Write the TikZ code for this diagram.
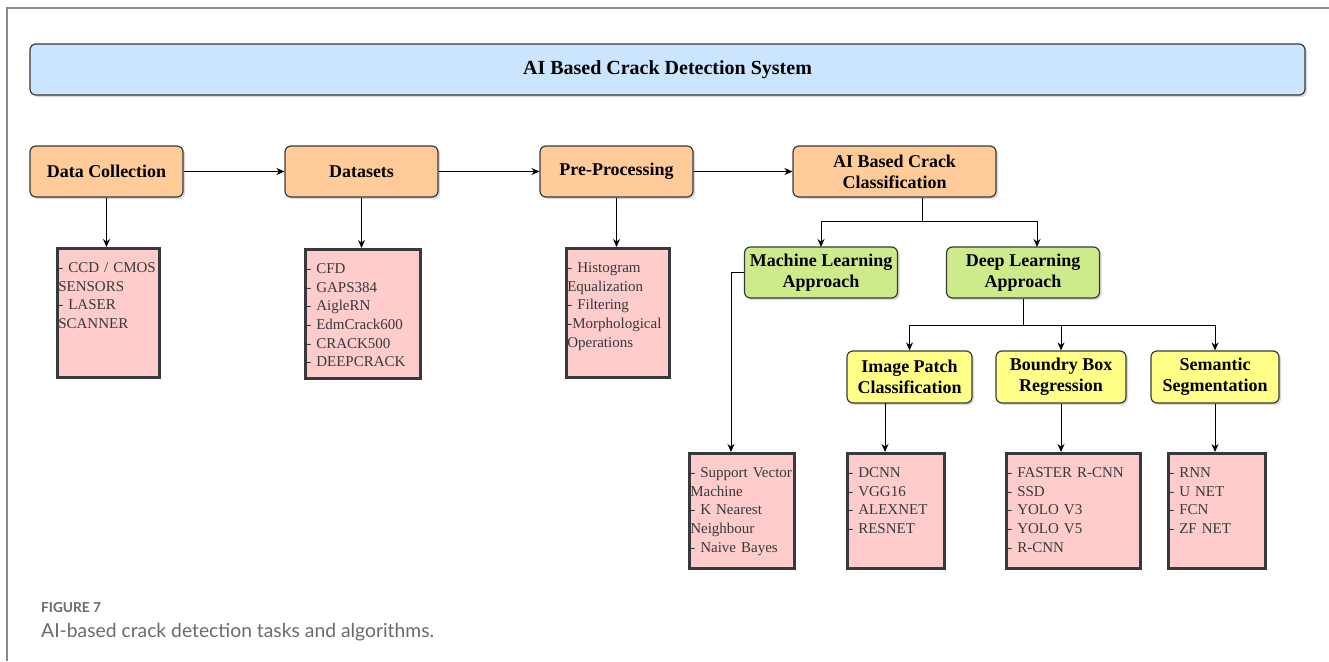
\documentclass[tikz,border=0pt]{standalone}
\usepackage{fontspec}
\setmainfont{Liberation Serif}
\newfontfamily\captionfont{Lato}
\usepackage{tikz}
\usetikzlibrary{shadows,arrows.meta}

\definecolor{edgegray}{HTML}{36393D}
\definecolor{headerblue}{HTML}{CCE5FF}
\definecolor{stageorange}{HTML}{FFCC99}
\definecolor{approachgreen}{HTML}{CDEB8B}
\definecolor{taskyellow}{HTML}{FFFF88}
\definecolor{listpink}{HTML}{FFCCCC}
\definecolor{framegray}{HTML}{8A8A8A}
\definecolor{captiongray}{HTML}{6A6A6A}

\begin{document}
\begin{tikzpicture}[x=1pt,y=-1pt,
  box/.style={draw=edgegray,line width=1.2pt,rounded corners=6pt,align=center,inner sep=0pt,
    font=\bfseries\fontsize{18}{21}\selectfont,
    drop shadow={shadow xshift=2pt,shadow yshift=-2pt,opacity=0.3}},
  stage/.style={box,fill=stageorange,minimum width=153pt,minimum height=51pt},
  approach/.style={box,fill=approachgreen,minimum width=153pt,minimum height=51pt},
  task/.style={box,fill=taskyellow,minimum height=52pt},
  listbox/.style={draw=edgegray,line width=2.6pt,fill=listpink,anchor=north west,inner ysep=2pt,inner xsep=1pt,
    align=left,text=edgegray,font=\fontsize{15}{18.7}\selectfont,text height=22pt,
    drop shadow={shadow xshift=2pt,shadow yshift=-2pt,opacity=0.3}},
  link/.style={-{Stealth[length=8pt,width=7pt]},line width=1pt}]
\useasboundingbox (0,0) rectangle (1329,661);
\draw[framegray,line width=1.5pt] (7,661) -- (7,8) -- (1329,8);

\node[box,fill=headerblue,minimum width=1275pt,minimum height=51pt,font=\bfseries\fontsize{20}{22}\selectfont] (title) at (667.5,69.5) {AI Based Crack Detection System};

\node[stage] (collect) at (106.5,171.5) {Data Collection};
\node[stage] (data) at (361.5,171.5) {Datasets};
\node[stage] (prep) at (616.5,171.5) {Pre-Processing};
\node[stage,minimum width=203pt] (classify) at (894.5,171.5) {AI Based Crack\\Classification};

\node[approach] (ml) at (821,272.5) {Machine Learning\\Approach};
\node[approach] (dl) at (1023,272.5) {Deep Learning\\Approach};

\node[task,minimum width=125pt] (patch) at (909.5,377) {Image Patch\\Classification};
\node[task,minimum width=130pt] (bbox) at (1061,377) {Boundry Box\\Regression};
\node[task,minimum width=128pt] (seg) at (1215,377) {Semantic\\Segmentation};

\node[listbox,text width=100pt,text depth=103pt] (sensors) at (56,247) {- CCD / CMOS\\SENSORS\\- LASER\\SCANNER};
\node[listbox,text width=113pt,text depth=103pt] (sets) at (304,248) {- CFD\\- GAPS384\\- AigleRN\\- EdmCrack600\\- CRACK500\\- DEEPCRACK};
\node[listbox,text width=101pt,text depth=103pt] (filters) at (565,247) {- Histogram\\Equalization\\- Filtering\\-Morphological\\Operations};
\node[listbox,text width=103pt,text depth=89pt] (mlalgo) at (688,452) {- Support Vector\\Machine\\- K Nearest\\Neighbour\\- Naive Bayes};
\node[listbox,text width=95pt,text depth=89pt] (cnn) at (846,452) {- DCNN\\- VGG16\\- ALEXNET\\- RESNET};
\node[listbox,text width=132pt,text depth=89pt] (detect) at (1005,452) {- FASTER R-CNN\\- SSD\\- YOLO V3\\- YOLO V5\\- R-CNN};
\node[listbox,text width=95pt,text depth=89pt] (segnet) at (1167,452) {- RNN\\- U NET\\- FCN\\- ZF NET};

\draw[link] (collect) -- (data);
\draw[link] (data) -- (prep);
\draw[link] (prep) -- (classify);
\draw[link] (collect) -- (collect |- sensors.north);
\draw[link] (data) -- (data |- sets.north);
\draw[link] (prep) -- (prep |- filters.north);

\coordinate (split) at (922,221);
\draw[line width=1pt] (classify.south -| split) -- (split);
\draw[link] (split) -| (821,247);
\draw[link] (split) -| (1037,247);

\coordinate (fork) at (1023,325);
\draw[line width=1pt] (dl) -- (fork);
\draw[link] (fork) -| (patch);
\draw[link] (fork) -| (bbox);
\draw[link] (fork) -| (seg);

\draw[link] (ml.west) -| (731,452);
\draw[link] (885,403) -- (885,452);
\draw[link] (bbox) -- (bbox |- detect.north);
\draw[link] (seg) -- (seg |- segnet.north);

\node[anchor=base west,inner sep=0pt,text=captiongray,font=\captionfont\bfseries\fontsize{13.7}{15}\selectfont] (fignum) at (41,612) {FIGURE 7};
\node[anchor=base west,inner sep=0pt,text=captiongray,font=\captionfont\fontsize{19.3}{21}\selectfont] (caption) at (41,637) {AI-based crack detection tasks and algorithms.};
\end{tikzpicture}
\end{document}
